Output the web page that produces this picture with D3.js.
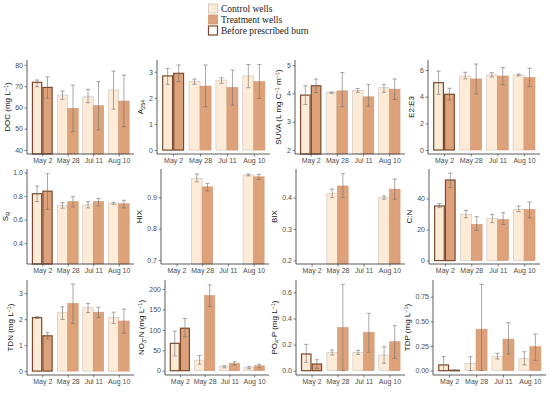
<!DOCTYPE html>
<html><head><meta charset="utf-8">
<script src="https://cdn.jsdelivr.net/npm/d3@7"></script>
<style>body{margin:0;background:#fff}svg{display:block}</style>
</head><body>
<svg id="c" width="550" height="395"></svg>
<script>
// ---- data ----
const dates = ["May 2", "May 28", "Jul 11", "Aug 10"];
const legendLabels = ["Control wells", "Treatment wells", "Before prescribed  burn"];
// [mean, lower, upper] per date
const DOC_control = [[71.8,69.7,72.9],[65.8,63.8,67.7],[65.0,62.2,68.5],[68.2,59.2,77.1]];
const DOC_treatment = [[69.4,64.3,74.4],[59.6,48.6,70.5],[60.8,49.4,72.1],[63.0,50.9,75.2]];
const A254_control = [[2.84,2.52,3.13],[2.62,2.52,2.72],[2.68,2.56,2.77],[2.84,2.39,3.28]];
const A254_treatment = [[2.94,2.62,3.26],[2.45,1.66,3.26],[2.40,1.72,3.07],[2.62,1.98,3.28]];
const SUVA_control = [[3.94,3.61,4.27],[4.03,4.00,4.05],[4.11,4.04,4.17],[4.20,4.04,4.32]];
const SUVA_treatment = [[4.27,4.03,4.51],[4.09,3.53,4.74],[3.88,3.55,4.32],[4.15,3.79,4.51]];
const E2E3_control = [[5.05,4.18,5.92],[5.55,5.33,5.83],[5.63,5.48,5.80],[5.63,5.55,5.70]];
const E2E3_treatment = [[4.18,3.75,4.63],[5.33,4.20,6.45],[5.55,4.88,6.18],[5.43,4.75,6.13]];
const SR_control = [[0.820,0.753,0.885],[0.720,0.697,0.745],[0.725,0.700,0.753],[0.740,0.730,0.748]];
const SR_treatment = [[0.842,0.687,0.990],[0.753,0.710,0.795],[0.753,0.717,0.780],[0.735,0.700,0.765]];
const HIX_control = [null,[0.961,0.950,0.975],null,[0.972,0.969,0.975]];
const HIX_treatment = [null,[0.934,0.921,0.945],null,[0.966,0.958,0.974]];
const BIX_control = [null,[0.414,0.400,0.427],null,[0.400,0.395,0.405]];
const BIX_treatment = [null,[0.437,0.400,0.476],null,[0.427,0.395,0.459]];
const CN_control = [[35.2,34.1,36.7],[29.8,27.6,32.4],[27.0,24.4,29.8],[33.0,31.5,35.2]];
const CN_treatment = [[51.9,47.0,56.3],[23.3,19.4,28.3],[26.5,23.3,30.9],[33.0,27.6,37.7]];
const TDN_control = [[2.06,2.03,2.10],[2.25,1.99,2.48],[2.44,2.25,2.61],[2.06,1.84,2.27]];
const TDN_treatment = [[1.36,1.24,1.49],[2.61,1.84,3.35],[2.27,2.06,2.46],[1.93,1.46,2.39]];
const NO3_control = [[67,36,97],[26,16,37],[10,7,12],[7.5,5,10]];
const NO3_treatment = [[104,83,128],[184,157,210],[18,14,22],[12,7,16]];
const PO4_control = [[0.128,0.064,0.202],[0.141,0.120,0.158],[0.141,0.125,0.156],[0.120,0.057,0.184]];
const PO4_treatment = [[0.051,0.018,0.084],[0.330,0.000,0.662],[0.294,0.141,0.440],[0.222,0.095,0.345]];
const TDP_control = [[0.058,0.000,0.142],[0.075,0.000,0.142],[0.142,0.118,0.176],[0.125,0.058,0.192]];
const TDP_treatment = [[0.004,0.000,0.008],[0.420,0.000,0.875],[0.320,0.169,0.486],[0.243,0.105,0.372]];

const DOC_ticks = [40,50,60,70,80];
const A254_ticks = [0,1,2,3];
const SUVA_ticks = [2,3,4,5];
const E2E3_ticks = [0,2,4,6];
const SR_ticks = [0.4,0.6,0.8,1.0];
const HIX_ticks = [0.7,0.8,0.9];
const BIX_ticks = [0.2,0.3,0.4];
const CN_ticks = [0,20,40];
const TDN_ticks = [0,1,2,3];
const NO3_ticks = [0,50,100,150,200];
const PO4_ticks = [0.0,0.2,0.4,0.6];
const TDP_ticks = [0.00,0.25,0.50,0.75];

// ---- panel setup (title parts: [text, mode] mode: n normal, sub, sup) ----
const panels = [
 {ctl:DOC_control, trt:DOC_treatment, ticks:DOC_ticks, dom:[38.1,82.3], fmt:"d", title:[["DOC (mg L","n"],["−1","sup"],[")","n"]], box:[27,134,60,154]},
 {ctl:A254_control, trt:A254_treatment, ticks:A254_ticks, dom:[-0.15,3.45], fmt:"d", title:[["A","n"],["254","sub"]], box:[157,270,60,154]},
 {ctl:SUVA_control, trt:SUVA_treatment, ticks:SUVA_ticks, dom:[1.86,5.18], fmt:"d", title:[["SUVA (L mg C","n"],["−1","sup"],[" m","n"],["−1","sup"],[")","n"]], box:[295,405,60,154]},
 {ctl:E2E3_control, trt:E2E3_treatment, ticks:E2E3_ticks, dom:[-0.3,6.75], fmt:"d", title:[["E2:E3","n"]], box:[428,540,60,154]},
 {ctl:SR_control, trt:SR_treatment, ticks:SR_ticks, dom:[0.224,1.03], fmt:".1f", title:[["S","n"],["R","sub"]], box:[27,134,169,264]},
 {ctl:HIX_control, trt:HIX_treatment, ticks:HIX_ticks, dom:[0.687,0.991], fmt:".1f", title:[["HIX","n"]], box:[161,269,169,264]},
 {ctl:BIX_control, trt:BIX_treatment, ticks:BIX_ticks, dom:[0.189,0.491], fmt:".1f", title:[["BIX","n"]], box:[296,405,169,264]},
 {ctl:CN_control, trt:CN_treatment, ticks:CN_ticks, dom:[-2.2,59], fmt:"d", title:[["C:N","n"]], box:[429,540,169,264]},
 {ctl:TDN_control, trt:TDN_treatment, ticks:TDN_ticks, dom:[-0.15,3.51], fmt:"d", title:[["TDN (mg L","n"],["−1","sup"],[")","n"]], box:[27,134,280,375]},
 {ctl:NO3_control, trt:NO3_treatment, ticks:NO3_ticks, dom:[-10.5,222], fmt:"d", title:[["NO","n"],["3","sub"],["-N (mg L","n"],["−1","sup"],[")","n"]], box:[165,269,280,375]},
 {ctl:PO4_control, trt:PO4_treatment, ticks:PO4_ticks, dom:[-0.033,0.695], fmt:".1f", title:[["PO","n"],["4","sub"],["-P (mg L","n"],["−1","sup"],[")","n"]], box:[296,405,280,375]},
 {ctl:TDP_control, trt:TDP_treatment, ticks:TDP_ticks, dom:[-0.044,0.919], fmt:".2f", title:[["TDP  (mg L","n"],["−1","sup"],[")","n"]], box:[433,546,280,375]}
];

const C_FILL = "#fdebd7", C_STROKE = "#cbc3bb";
const T_FILL = "#dea27b", T_STROKE = "#d39670";
const BURN = "#7b4a2c";
const ERR = "#6f6f6f";
const AXIS = "#333333";
const TICKTXT = "#4d4d4d";

const svg = d3.select("#c");

panels.forEach(p => {
  const [x0, x1, y0, y1] = p.box;
  const x = d3.scalePoint().domain(dates).range([x0, x1]).padding(0.6);
  const y = d3.scaleLinear().domain(p.dom).range([y1, y0]);
  const step = x.step();
  const bw = step * 0.41;
  const g = svg.append("g");
  const base = y(Math.max(0, p.dom[0]));

  const series = [
    {vals:p.ctl, off:-bw, fill:C_FILL, stroke:C_STROKE},
    {vals:p.trt, off:0, fill:T_FILL, stroke:T_STROKE}
  ];
  series.forEach(s => {
    const rows = dates.map((d,i) => ({d, v:s.vals[i], i})).filter(r => r.v);
    g.selectAll(null).data(rows).enter().append("rect")
      .attr("x", r => x(r.d) + s.off + (r.i===0 ? 0.6 : 0))
      .attr("width", r => bw - (r.i===0 ? 1.2 : 0))
      .attr("y", r => y(r.v[0]))
      .attr("height", r => Math.max(0.5, base - y(r.v[0])))
      .attr("fill", s.fill)
      .attr("stroke", r => r.i===0 ? BURN : s.stroke)
      .attr("stroke-width", r => r.i===0 ? 1.2 : 0.6);
  });
  series.forEach(s => {
    const rows = dates.map((d,i) => ({d, v:s.vals[i], i})).filter(r => r.v);
    const cx = r => x(r.d) + s.off + bw/2;
    const cap = step * 0.08;
    const eg = g.selectAll(null).data(rows).enter().append("g")
      .attr("stroke", ERR).attr("stroke-width", 0.6).attr("fill", "none");
    eg.append("line").attr("x1", cx).attr("x2", cx).attr("y1", r => y(r.v[1])).attr("y2", r => y(r.v[2]));
    eg.append("line").attr("x1", r => cx(r)-cap).attr("x2", r => cx(r)+cap).attr("y1", r => y(r.v[1])).attr("y2", r => y(r.v[1]));
    eg.append("line").attr("x1", r => cx(r)-cap).attr("x2", r => cx(r)+cap).attr("y1", r => y(r.v[2])).attr("y2", r => y(r.v[2]));
  });

  // axes
  const yAxis = d3.axisLeft(y).tickValues(p.ticks).tickSize(2.5).tickPadding(1.5)
    .tickFormat(p.fmt === "d" ? d3.format("d") : d3.format(p.fmt));
  const ya = g.append("g").attr("transform", `translate(${x0},0)`).call(yAxis);
  ya.select(".domain").attr("d", `M-0.0,${y0}V${y1}`);
  const xAxis = d3.axisBottom(x).tickSize(2.5).tickPadding(2);
  const xa = g.append("g").attr("transform", `translate(0,${y1})`).call(xAxis);
  xa.select(".domain").attr("d", `M${x0},0H${x1}`);
  [ya, xa].forEach(a => {
    a.select(".domain").attr("stroke", AXIS).attr("stroke-width", 0.8);
    a.selectAll(".tick line").attr("stroke", AXIS).attr("stroke-width", 0.6);
    a.selectAll(".tick text").attr("fill", TICKTXT).attr("font-size", 7)
      .attr("font-family", "Liberation Sans, Arial, sans-serif");
  });
  let maxW = 0;
  ya.selectAll(".tick text").each(function(){ maxW = Math.max(maxW, this.getBBox().width); });
  const off = Math.max(14, maxW + 9);

  // y title
  const t = g.append("text")
    .attr("transform", `translate(${x0 - off},${(y0+y1)/2}) rotate(-90)`)
    .attr("text-anchor", "middle").attr("font-size", 8)
    .attr("font-family", "Liberation Sans, Arial, sans-serif").attr("fill", "#111");
  let shift = 0;
  p.title.forEach(([txt, mode]) => {
    const sp = t.append("tspan").text(txt);
    if (mode === "sup") { sp.attr("dy", -2.5 - shift).attr("font-size", 5.5); shift = -2.5; }
    else if (mode === "sub") { sp.attr("dy", 2 - shift).attr("font-size", 5.5); shift = 2; }
    else { if (shift) sp.attr("dy", -shift); shift = 0; }
  });
});

// legend
const leg = svg.append("g").attr("font-family", "Liberation Serif, 'Times New Roman', serif").attr("font-size", 9.5).attr("fill", "#222");
const legStyles = [
  {fill:C_FILL, stroke:C_STROKE, sw:0.8},
  {fill:T_FILL, stroke:T_STROKE, sw:0.8},
  {fill:"#ffffff", stroke:BURN, sw:1.2}
];
legendLabels.forEach((lab, i) => {
  const yy = 4 + i * 11;
  leg.append("rect").attr("x", 208.5).attr("y", yy).attr("width", 9).attr("height", 9)
    .attr("fill", legStyles[i].fill).attr("stroke", legStyles[i].stroke).attr("stroke-width", legStyles[i].sw);
  leg.append("text").attr("x", 221).attr("y", yy + 7.5).text(lab);
});
</script>
</body></html>
